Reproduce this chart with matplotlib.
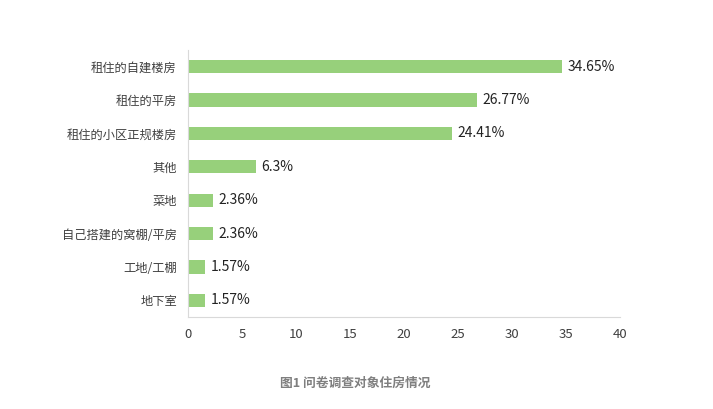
import matplotlib.pyplot as plt

plt.rcParams['font.family'] = ['Noto Sans CJK SC', 'DejaVu Sans']

# 住房类型与占比（从上到下）
categories = ['租住的自建楼房', '租住的平房', '租住的小区正规楼房', '其他',
              '菜地', '自己搭建的窝棚/平房', '工地/工棚', '地下室']
values = [34.65, 26.77, 24.41, 6.3, 2.36, 2.36, 1.57, 1.57]
labels = ['34.65%', '26.77%', '24.41%', '6.3%', '2.36%', '2.36%', '1.57%', '1.57%']
xticks = [0, 5, 10, 15, 20, 25, 30, 35, 40]

fig = plt.figure(figsize=(7.13, 4.09), dpi=100)
ax = fig.add_axes([188 / 713, 1 - 317 / 409, (620 - 188) / 713, (317 - 50) / 409])

pos = list(range(len(categories)))
ax.barh(pos, values, height=0.4, color='#97d07b')
for p, v, t in zip(pos, values, labels):
    ax.text(v + 0.5, p, t, va='center', ha='left', fontsize=10, color='#222222')

ax.set_ylim(len(categories) - 0.5, -0.5)
ax.set_xlim(0, 40)
ax.set_yticks(pos)
ax.set_yticklabels(categories, fontsize=8.8, color='#404040')
ax.set_xticks(xticks)
ax.set_xticklabels([str(x) for x in xticks], fontsize=9.5, color='#404040')
ax.tick_params(length=0, pad=8)
ax.tick_params(axis='x', pad=8)

for s in ['top', 'right']:
    ax.spines[s].set_visible(False)
ax.spines['left'].set_color('#d9d9d9')
ax.spines['bottom'].set_color('#d9d9d9')

fig.text(355 / 713, 1 - 383 / 409, '图1 问卷调查对象住房情况', ha='center', va='center',
         fontsize=9.2, fontweight='bold', color='#7f7f7f')

fig.savefig('out.png', dpi=100)
